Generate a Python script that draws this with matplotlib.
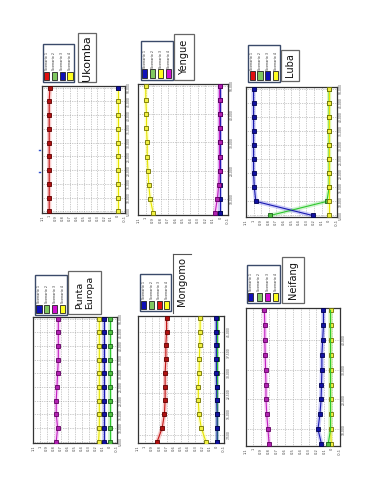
import numpy as np
import matplotlib
matplotlib.use("Agg")
import matplotlib.pyplot as plt
from matplotlib.patches import Rectangle
from matplotlib.lines import Line2D

W, H = 371, 480

# ---------------- data ----------------
population = [5000, 10000, 15000, 20000, 25000, 30000, 35000, 40000, 45000, 50000]
value_ticks = [1.1, 1.0, 0.9, 0.8, 0.7, 0.6, 0.5, 0.4, 0.3, 0.2, 0.1, 0.0, -0.1]
value_tick_labels = ["1.1", "1", "0.9", "0.8", "0.7", "0.6", "0.5", "0.4", "0.3", "0.2", "0.1", "0", "-0.1"]
scenario_labels = ["Scenario 1", "Scenario 2", "Scenario 3", "Scenario 4"]

# Ukomba
ukomba_s1 = [1.0, 1.0, 1.0, 1.0, 1.0, 1.0, 1.0, 1.0, 1.0, 0.99]
ukomba_s3 = [None, None, None, None, None, None, None, None, None, 0.0]
ukomba_s4 = [0.0, 0.0, 0.0, 0.0, 0.0, 0.0, 0.0, 0.0, 0.0, 0.0]
ukomba_ticks = [5000, 10000, 15000, 20000, 25000, 30000, 35000, 40000, 45000, 50000]

# Yengue
yengue_s1 = [0.0, 0.0, 0.0, 0.0, 0.0, 0.0, 0.0, 0.0, 0.0, 0.0]
yengue_s2 = [0.0, None, None, None, None, None, None, None, None, None]
yengue_s3 = [0.9, 0.94, 0.96, 0.97, 0.98, 0.98, 0.99, 0.99, 1.0, 1.0]
yengue_s4 = [0.07, 0.04, 0.02, 0.01, 0.01, 0.01, 0.01, 0.01, 0.01, 0.01]
yengue_ticks = [10000, 20000, 30000, 40000, 50000]

# Luba
luba_s2 = [0.78, 0.03, 0.0, 0.0, 0.0, 0.0, 0.0, 0.0, 0.0, 0.0]
luba_s3 = [0.22, 0.97, 0.99, 1.0, 1.0, 1.0, 1.0, 1.0, 1.0, 1.0]
luba_s4 = [0.0, 0.0, 0.0, 0.0, 0.0, 0.0, 0.0, 0.0, 0.0, 0.0]
luba_ticks = [5000, 10000, 15000, 20000, 25000, 30000, 35000, 40000, 45000, 50000]

# Punta Europa
punta_s1 = [0.08, 0.08, 0.08, 0.08, 0.08, 0.08, 0.08, 0.08, 0.08, 0.08]
punta_s2 = [0.0, 0.0, 0.0, 0.0, 0.0, 0.0, 0.0, 0.0, 0.0, 0.0]
punta_s3 = [0.77, 0.75, 0.77, 0.77, 0.76, 0.75, 0.74, 0.74, 0.74, 0.74]
punta_s4 = [0.16, 0.15, 0.15, 0.15, 0.15, 0.15, 0.15, 0.15, 0.15, 0.15]
punta_ticks = [5000, 10000, 15000, 20000, 25000, 30000, 35000, 40000, 45000, 50000]

# Mongomo
mongomo_s1 = [0.0, 0.0, 0.0, 0.005, 0.005, 0.01, 0.01, 0.01, 0.01, 0.01]
mongomo_s2 = [0.0, 0.0, 0.0, 0.0, 0.0, 0.0, 0.0, 0.0, 0.0, 0.0]
mongomo_s3 = [0.83, 0.76, 0.73, 0.72, 0.72, 0.72, 0.71, 0.71, 0.70, 0.70]
mongomo_s4 = [0.155, 0.22, 0.25, 0.26, 0.26, 0.25, 0.245, 0.24, 0.235, 0.235]
mongomo_ticks = [7500, 15000, 22500, 30000, 37500, 45000]

# Neifang
neifang_s1 = [0.135, 0.18, 0.155, 0.14, 0.135, 0.13, 0.13, 0.12, 0.11, 0.11]
neifang_s2 = [0.05, 0.02, 0.02, 0.02, 0.02, 0.02, 0.02, 0.02, 0.02, 0.02]
neifang_s3 = [0.80, 0.815, 0.83, 0.84, 0.84, 0.845, 0.85, 0.855, 0.855, 0.86]
neifang_s4 = [0.01, 0.02, 0.02, 0.02, 0.02, 0.02, 0.02, 0.02, 0.02, 0.02]
neifang_ticks = [10000, 20000, 30000, 40000]

# ---------------- styles ----------------
STY = {
    "red":     dict(line="#c41818", halo="#f08080", fill="#b01010", edge="#600000", patch="#e01010"),
    "green":   dict(line="#2ec82e", halo="#90e890", fill="#50c040", edge="#1a601a", patch="#80c860"),
    "blue":    dict(line="#1a1ab0", halo="#8080f0", fill="#1010a0", edge="#000050", patch="#1010b8"),
    "yellow":  dict(line="#e6e600", halo="#ffff80", fill="#f0f040", edge="#707000", patch="#ffff20"),
    "magenta": dict(line="#c020c0", halo="#f090f0", fill="#b020b0", edge="#600060", patch="#d010d0"),
}

fig = plt.figure(figsize=(W / 100, H / 100), dpi=100)
fig.patch.set_facecolor("white")


def px_rect(x0, y0, x1, y1, **kw):
    fig.add_artist(Rectangle((x0 / W, 1 - y1 / H), (x1 - x0) / W, (y1 - y0) / H,
                             transform=fig.transFigure, **kw))


def px_text(x, y, s, **kw):
    fig.text(x / W, 1 - y / H, s, **kw)


def px_line(xs, ys, **kw):
    fig.add_artist(Line2D([x / W for x in xs], [1 - y / H for y in ys],
                          transform=fig.transFigure, **kw))


def draw_series(ax, vals, key, markevery=None):
    s = STY[key]
    v = np.array([np.nan if a is None else a for a in vals], dtype=float)
    ax.plot(v, population, color=s["halo"], lw=3.0, alpha=0.4, zorder=2,
            solid_capstyle="butt")
    ax.plot(v, population, color=s["line"], lw=0.8, marker="s", ms=3.2,
            mfc=s["fill"], mec=s["edge"], mew=0.6, zorder=3, markevery=markevery)


def make_axes(box, ticks):
    x0, y0, x1, y1 = box
    ax = fig.add_axes([x0 / W, 1 - y1 / H, (x1 - x0) / W, (y1 - y0) / H])
    ax.set_xlim(1.1, -0.1)
    ax.set_ylim(5000 - 650, 50000 + 650)
    ax.set_xticks(value_ticks)
    ax.set_xticklabels(value_tick_labels, rotation=90, fontsize=2.6, color="#444444")
    ax.yaxis.tick_right()
    ax.set_yticks(ticks)
    ax.set_yticklabels([f"{t:,}" for t in ticks], rotation=90, va="center",
                       fontsize=2.2, color="#444444")
    ax.tick_params(length=0, pad=1.5)
    ax.grid(True, ls=(0, (1, 1.5)), lw=0.5, color="#9a9a9a")
    ax.set_axisbelow(True)
    for sp in ax.spines.values():
        sp.set_color("#333333")
        sp.set_linewidth(0.9)
    return ax


def draw_legend(box, colors):
    x0, y0, x1, y1 = box
    px_rect(x0 + 1, y0 + 1, x1 + 1, y1 + 1, fc="#bbbbbb", ec="none", zorder=4)
    px_rect(x0, y0, x1, y1, fc="white", ec="#3a4a6a", lw=1.0, zorder=5)
    step = (x1 - x0) / 4
    for i, (lab, c) in enumerate(zip(scenario_labels, colors)):
        cx = x0 + (i + 0.5) * step
        px_rect(cx - 2.6, y1 - 10.5, cx + 2.6, y1 - 2.5, fc=STY[c]["patch"],
                ec="#222222", lw=0.6, zorder=6)
        px_text(cx, y1 - 12, lab, rotation=90, ha="center", va="bottom",
                fontsize=2.4, color="#333333", zorder=6)


def draw_title(box, text, size):
    x0, y0, x1, y1 = box
    px_rect(x0 + 1, y0 + 1, x1 + 1, y1 + 1, fc="#cccccc", ec="none", zorder=4)
    px_rect(x0, y0, x1, y1, fc="white", ec="#666666", lw=0.9, zorder=5)
    px_text((x0 + x1) / 2, (y0 + y1) / 2, text, rotation=90, ha="center",
            va="center", fontsize=size, color="#111111", zorder=6,
            linespacing=1.25, multialignment="left")


# ---------------- Ukomba ----------------
ax = make_axes((42.3, 86, 125, 213), ukomba_ticks)
draw_series(ax, ukomba_s4, "yellow")
draw_series(ax, ukomba_s3, "blue")
draw_series(ax, ukomba_s1, "red")
draw_legend((42.7, 44.3, 74, 82.3), ["red", "green", "blue", "yellow"])
draw_title((78, 33, 96, 82.3), "Ukomba", 8)

# ---------------- Yengue ----------------
ax = make_axes((138.3, 84, 227.7, 215), yengue_ticks)
draw_series(ax, yengue_s2, "green")
draw_series(ax, yengue_s1, "blue")
draw_series(ax, yengue_s4, "magenta")
draw_series(ax, yengue_s3, "yellow")
draw_legend((140.7, 40.7, 172.7, 80), ["blue", "green", "yellow", "magenta"])
draw_title((174.3, 34.3, 194, 80), "Yengue", 7)

# ---------------- Luba ----------------
ax = make_axes((246, 87, 336.7, 217.3), luba_ticks)
draw_series(ax, luba_s2, "green")
draw_series(ax, luba_s4, "yellow")
draw_series(ax, luba_s3, "blue")
draw_legend((248.3, 45, 279.5, 82), ["red", "green", "blue", "yellow"])
draw_title((281, 50, 299, 81), "Luba", 7)

# ---------------- Punta Europa ----------------
ax = make_axes((33.3, 317, 116.7, 443.3), punta_ticks)
draw_series(ax, punta_s2, "green")
draw_series(ax, punta_s1, "blue")
draw_series(ax, punta_s4, "yellow")
draw_series(ax, punta_s3, "magenta")
draw_legend((35, 275, 66.7, 315), ["blue", "green", "magenta", "yellow"])
draw_title((68.3, 271, 101, 314), "Punta\nEuropa", 6.8)

# ---------------- Mongomo ----------------
ax = make_axes((137.7, 316, 224.3, 443.3), mongomo_ticks)
draw_series(ax, mongomo_s2, "green")
draw_series(ax, mongomo_s1, "blue")
draw_series(ax, mongomo_s4, "yellow")
draw_series(ax, mongomo_s3, "red")
draw_legend((140, 274.3, 170.7, 311), ["blue", "green", "red", "yellow"])
px_text(181.5, 281, "Mongomo", rotation=90, ha="center", va="center",
        fontsize=7.2, color="#111111")
px_line([172.5, 172.5], [254, 313], color="#555555", lw=0.8)
px_line([172.5, 191], [254, 254], color="#555555", lw=0.8)

# ---------------- Neifang ----------------
ax = make_axes((245.5, 308.3, 340, 446), neifang_ticks)
draw_series(ax, neifang_s4, "yellow")
draw_series(ax, neifang_s2, "green", markevery=[0])
draw_series(ax, neifang_s1, "blue")
draw_series(ax, neifang_s3, "magenta")
draw_legend((246.7, 265, 280, 303), ["blue", "green", "magenta", "yellow"])
draw_title((282.3, 257.3, 304.3, 303.3), "Neifang", 7)

# small stray marks left of Ukomba
px_line([38.5, 39.5], [150, 150], color="#3050d0", lw=1.0)
px_line([38.5, 39.5], [172, 172], color="#3050d0", lw=1.0)

fig.savefig("out.png", dpi=100, facecolor="white")
